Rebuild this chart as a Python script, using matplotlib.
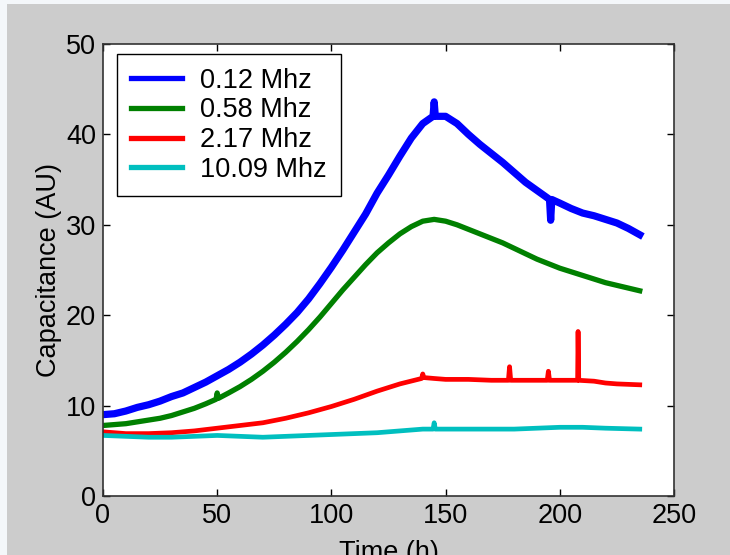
import matplotlib
matplotlib.use("Agg")
import matplotlib.pyplot as plt
from matplotlib.lines import Line2D
from matplotlib.patches import Rectangle

plt.rcParams['font.family'] = ['Liberation Sans', 'DejaVu Sans']

labels = ["0.12 Mhz", "0.58 Mhz", "2.17 Mhz", "10.09 Mhz"]
colors = ["#0000ff", "#008000", "#ff0000", "#00bfbf"]

t_blue = [0, 5, 10, 15, 20, 25, 30, 35, 40, 45, 50, 55, 60, 65, 70, 75, 80, 85, 90, 95,
          100, 105, 110, 115, 120, 125, 130, 135, 140, 144.5, 145, 145.5, 150, 155, 160,
          165, 170, 175, 180, 185, 190, 195, 195.5, 196, 196.5, 200, 205, 210, 215, 220,
          225, 230, 235]
v_blue = [9.0, 9.1, 9.4, 9.8, 10.1, 10.5, 11.0, 11.4, 12.0, 12.6, 13.3, 14.0, 14.8, 15.7,
          16.7, 17.8, 19.0, 20.3, 21.8, 23.5, 25.3, 27.2, 29.2, 31.2, 33.5, 35.5, 37.6,
          39.6, 41.2, 42.0, 43.6, 42.0, 42.0, 41.2, 40.0, 38.9, 37.9, 36.9, 35.8, 34.7,
          33.8, 32.9, 32.8, 30.5, 32.8, 32.4, 31.8, 31.3, 31.0, 30.6, 30.2, 29.6, 28.9]

t_green = [0, 5, 10, 15, 20, 25, 30, 35, 40, 45, 49.5, 50, 50.5, 55, 60, 65, 70, 75, 80,
           85, 90, 95, 100, 105, 110, 115, 120, 125, 130, 135, 140, 145, 150, 155, 160,
           165, 170, 175, 180, 185, 190, 195, 200, 205, 210, 215, 220, 225, 230, 235]
v_green = [7.8, 7.9, 8.0, 8.2, 8.4, 8.6, 8.9, 9.3, 9.7, 10.2, 10.7, 11.4, 10.8, 11.4,
           12.1, 12.9, 13.8, 14.8, 15.9, 17.1, 18.4, 19.8, 21.3, 22.8, 24.2, 25.6, 26.9,
           28.0, 29.0, 29.8, 30.4, 30.6, 30.4, 30.0, 29.5, 29.0, 28.5, 28.0, 27.4, 26.8,
           26.2, 25.7, 25.2, 24.8, 24.4, 24.0, 23.6, 23.3, 23.0, 22.7]

t_red = [0, 10, 20, 30, 40, 50, 60, 70, 80, 90, 100, 110, 120, 130, 139.5, 140, 140.5,
         145, 150, 160, 170, 177.5, 178, 178.5, 190, 194.5, 195, 195.5, 200, 207.8, 208,
         208.3, 215, 220, 225, 235]
v_red = [7.1, 6.9, 6.9, 7.0, 7.2, 7.5, 7.8, 8.1, 8.6, 9.2, 9.9, 10.7, 11.6, 12.4, 13.0,
         13.5, 13.1, 13.0, 12.9, 12.9, 12.8, 12.8, 14.3, 12.8, 12.8, 12.8, 13.8, 12.8,
         12.8, 12.8, 18.2, 12.8, 12.7, 12.5, 12.4, 12.3]

t_cyan = [0, 10, 20, 30, 40, 50, 60, 70, 80, 90, 100, 110, 120, 130, 140, 144.5, 145,
          145.5, 150, 160, 170, 180, 190, 200, 210, 220, 235]
v_cyan = [6.7, 6.6, 6.5, 6.5, 6.6, 6.7, 6.6, 6.5, 6.6, 6.7, 6.8, 6.9, 7.0, 7.2, 7.4, 7.4,
          8.1, 7.4, 7.4, 7.4, 7.4, 7.4, 7.5, 7.6, 7.6, 7.5, 7.4]

x_ticks = [0, 50, 100, 150, 200, 250]
y_ticks = [0, 10, 20, 30, 40, 50]

fig = plt.figure(figsize=(7.3, 5.55), dpi=100, facecolor="#cccccc")
fig.patches.append(Rectangle((0, 0), 7 / 730, 1, transform=fig.transFigure,
                             facecolor="#f4f7fa", edgecolor="none", zorder=0))
fig.patches.append(Rectangle((0, 1 - 4 / 555), 1, 4 / 555, transform=fig.transFigure,
                             facecolor="#f4f7fa", edgecolor="none", zorder=0))
ax = fig.add_axes([103 / 730, 1 - 496 / 555, 571 / 730, 452 / 555])
ax.set_facecolor("white")

series = [(t_blue, v_blue, 5.2), (t_green, v_green, 3.8),
          (t_red, v_red, 3.4), (t_cyan, v_cyan, 3.4)]
for (t, v, lw), c in zip(series, colors):
    ax.plot(t, v, color=c, lw=lw, solid_joinstyle="round")

ax.set_xlim(0, 250)
ax.set_ylim(0, 50)
ax.set_xticks(x_ticks)
ax.set_yticks(y_ticks)
ax.tick_params(direction="in", length=5, width=1, top=True, right=True,
               labelsize=19.5, pad=5, colors="black")
for s in ax.spines.values():
    s.set_linewidth(1.2)
    s.set_color("#333333")

ax.set_xlabel("Time (h)", fontsize=19.5, labelpad=8)
ax.set_ylabel("Capacitance (AU)", fontsize=19.5, labelpad=3)

handles = [Line2D([0], [0], color=c, lw=3.8) for c in colors]
leg = ax.legend(handles, labels, loc="upper left",
                bbox_to_anchor=(117 / 730, 1 - 54 / 555), bbox_transform=fig.transFigure,
                borderaxespad=0, fontsize=19.5, handlelength=1.9, handletextpad=0.68,
                labelspacing=0.14, fancybox=False, framealpha=1, edgecolor="black",
                borderpad=0.5)
leg.get_frame().set_linewidth(1.0)

fig.savefig("out.png", dpi=100, facecolor=fig.get_facecolor())
